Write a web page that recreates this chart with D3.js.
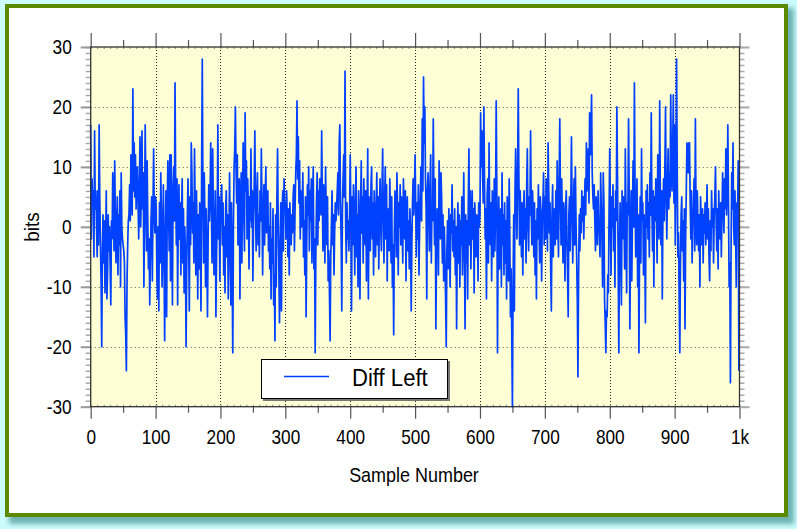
<!DOCTYPE html>
<html><head><meta charset="utf-8">
<script src="https://cdn.jsdelivr.net/npm/d3@7/dist/d3.min.js"></script>
<style>html,body{margin:0;padding:0;background:#ccfcfc;}svg{display:block;}</style>
</head><body>
<script>
// ---- data ----
const seriesName = "Diff Left";
const diffLeft = [
 17,-2,8,4,6,-5,16,3,6,0,-5,6,-3,17,5,-3,-9,-20,-4,2,
 -6,1,-11,-3,6,-12,-8,2,-4,0,-7,-13,1,-2,9,3,-4,11,2,-6,
 -1,5,-8,2,-3,6,-10,9,0,-2,-3,-4,-6,-15,-18,-24,-9,-3,1,2,
 7,1,12,8,2,23,6,14,5,12,3,8,10,4,-2,7,15,0,5,16,
 3,9,-10,2,17,6,-4,11,1,-7,-2,-13,-5,1,5,-9,3,13,2,-1,
 5,3,-8,-12,0,-14,4,-6,9,2,-10,-3,7,-5,-19,-2,6,-15,4,11,
 3,-4,12,-9,12,2,-13,6,10,1,24,6,-3,8,-13,2,7,-2,4,-8,
 2,8,-6,3,-11,0,-4,-20,-7,2,8,-2,-14,5,-3,14,9,-1,4,-6,
 13,3,-8,6,-1,-12,2,-7,4,-3,-14,10,28,5,-6,9,2,-10,3,-4,
 -15,-2,7,1,5,14,4,-6,13,3,-8,-3,6,-15,-5,2,17,-2,5,-9,
 1,5,7,-3,4,-8,0,-11,3,6,-5,2,-12,-4,9,-2,-13,4,-7,-21,
 0,10,13,20,10,4,12,-3,6,8,-12,2,9,-6,5,14,3,-4,19,6,
 11,-2,8,3,-7,5,1,13,0,6,-9,2,7,16,3,-4,5,9,-3,2,
 -5,6,1,13,4,-8,2,7,-3,5,10,-1,3,6,-4,0,-7,4,-12,-2,
 -6,3,-13,-8,-19,2,-10,5,13,1,-7,-16,-3,4,-14,2,6,-4,8,3,
 4,-2,6,1,-5,3,-8,4,0,-3,2,-1,5,7,-4,3,9,12,21,8,
 15,4,11,-2,6,0,3,9,-5,1,-8,5,-15,-3,7,2,10,-4,6,1,
 8,-6,3,10,-7,-2,-21,-5,4,9,-3,6,1,8,4,2,16,5,-4,7,
 3,-6,10,2,-3,5,-9,-4,-11,-19,-5,0,6,-3,2,-8,-1,4,1,3,
 6,9,2,14,17,4,-2,-14,3,8,12,5,26,0,-6,4,-2,1,-4,2,
 12,2,-14,5,-3,7,1,-8,4,10,-5,2,-10,6,0,-12,3,11,-1,5,
 -6,8,2,-3,6,-9,3,13,-12,5,1,-4,7,10,-2,4,-8,6,1,-5,
 3,9,-3,5,-7,2,8,0,-4,6,13,2,-6,4,10,-2,7,-9,3,1,
 -4,8,2,-6,5,-10,-3,-18,-1,6,2,-5,9,3,-8,4,0,7,-3,5,
 1,-6,8,3,-2,6,-9,2,5,-4,1,-7,3,-1,-14,-3,4,8,2,6,
 12,3,-5,4,-2,7,-8,0,5,10,1,18,6,25,14,20,8,3,-12,6,
 9,2,-4,7,12,-6,4,1,18,5,-3,8,-17,-5,3,2,-8,11,6,-2,
 9,4,-6,2,-9,0,-5,-12,-20,-4,1,-7,3,-3,-10,2,-1,7,-4,1,
 -5,3,-8,0,-17,-2,4,-6,2,-10,1,-3,5,-8,-1,9,-4,-17,2,-6,
 1,-12,4,13,-3,6,-7,0,6,-2,3,-11,4,0,-5,2,1,-9,4,0,
 2,19,10,16,9,4,20,7,-2,3,-12,5,8,-6,14,1,-3,4,-9,6,
 2,-5,8,-4,3,21,6,-21,-2,5,-7,1,3,-10,9,-3,2,-8,4,-6,
 1,-12,5,-4,-9,8,-2,-15,-7,-18,-30,-10,2,-14,6,13,4,-2,9,23,
 8,-3,6,1,-5,4,-8,2,6,-2,3,-6,7,13,0,-4,5,2,16,3,
 -3,6,2,-5,4,-8,1,-12,3,-2,7,0,-6,5,2,-9,1,4,9,-3,
 5,-2,8,3,-4,14,6,-1,4,-7,-14,2,7,-5,1,3,-3,6,-2,11,
 2,-5,7,18,5,-3,8,1,-6,4,0,-9,3,6,-2,-8,-15,2,5,-4,
 4,15,3,-6,2,8,-3,10,1,-5,-12,-25,-8,2,-4,3,-1,6,1,5,
 -2,4,8,2,14,6,10,13,4,19,12,16,22,9,5,3,7,1,-4,5,
 2,-3,6,0,-1,-5,9,3,-2,-10,9,4,-12,-16,-21,-14,-15,-8,-11,3,
 13,2,-8,5,0,7,-4,3,-10,6,1,20,8,-6,-21,-3,4,-5,-13,6,
 -2,5,1,-7,13,3,-11,4,2,18,5,-17,-4,6,-9,2,11,0,24,6,
 -5,3,8,-10,2,-21,-3,5,-6,13,1,4,-8,2,-3,-16,6,0,7,-2,
 4,-5,9,2,19,3,-4,6,-10,5,1,8,3,-6,12,4,-2,21,5,-3,
 6,-12,3,8,1,10,20,4,-2,7,13,3,9,5,22,10,6,13,22,4,
 17,-3,8,28,10,-5,-1,-12,-21,-6,2,5,-4,1,-9,3,-17,-2,6,14,
 13,9,14,14,4,-2,6,-6,1,3,8,-4,18,2,-3,6,0,-4,2,-10,
 5,0,-3,3,-6,2,-1,4,-3,1,7,-2,3,-5,-9,1,-4,6,0,3,
 -6,2,5,10,1,-4,3,-7,6,0,-2,4,-5,2,9,5,-1,8,3,13,
 2,6,17,4,-10,-6,-26,-4,9,3,14,0,-3,6,-1,-10,4,2,11,-24
];
const xTicks = [0,100,200,300,400,500,600,700,800,900,1000];
const xTickLabels = ["0","100","200","300","400","500","600","700","800","900","1k"];
const yTicks = [-30,-20,-10,0,10,20,30];
const yTickLabels = ["-30","-20","-10","0","10","20","30"];
const xTitle = "Sample Number";
const yTitle = "bits";

// ---- layout ----
const W = 797, H = 529;
const L = 90.7, R = 739.5, T = 47, B = 406.7;
const FONT = "'Liberation Sans',Arial,Helvetica,sans-serif";
const svg = d3.select("body").append("svg").attr("width", W).attr("height", H);
const defs = svg.append("defs");
const blur = defs.append("filter").attr("id","sh").attr("x","-5%").attr("y","-5%").attr("width","115%").attr("height","115%");
blur.append("feGaussianBlur").attr("stdDeviation", 2.5);

// frame with shadow
svg.append("rect").attr("x", 9).attr("y", 8).attr("width", 785).attr("height", 516)
  .attr("fill", "#4f9a9a").attr("opacity", 0.75).attr("filter","url(#sh)");
svg.append("rect").attr("x", 7).attr("y", 6).attr("width", 779).attr("height", 509)
  .attr("fill", "#ffffff").attr("stroke", "#5b8a00").attr("stroke-width", 4);

const x = d3.scaleLinear().domain([0, 1000]).range([L, R]);
const y = d3.scaleLinear().domain([-30, 30]).range([B, T]);

// plot background
svg.append("rect").attr("x", L).attr("y", T).attr("width", R - L).attr("height", B - T).attr("fill", "#ffffd6");

// grid
const g = svg.append("g");
g.selectAll("line.gx").data(xTicks.slice(1, -1)).join("line")
  .attr("x1", d => Math.round(x(d)) + 0.5).attr("x2", d => Math.round(x(d)) + 0.5)
  .attr("y1", T).attr("y2", B).attr("stroke", "#222").attr("stroke-width", 1).attr("stroke-dasharray", "1,2");
g.selectAll("line.gy").data(yTicks.slice(1, -1)).join("line")
  .attr("y1", d => Math.round(y(d)) + 0.5).attr("y2", d => Math.round(y(d)) + 0.5)
  .attr("x1", L).attr("x2", R).attr("stroke", "#555").attr("stroke-width", 1).attr("stroke-dasharray", "1,3");

// axes via d3
const minorX = d3.range(0, 1001, 10);
const midX = d3.range(50, 1000, 100);
const minorY = d3.range(-30, 31, 1);

function styleAxis(sel, col, w) {
  sel.select(".domain").remove();
  sel.selectAll(".tick line").attr("stroke", col).attr("stroke-width", w);
  sel.selectAll("text").remove();
}
function condense(sel, f) {
  sel.each(function() {
    const len = this.getComputedTextLength();
    d3.select(this).attr("textLength", len * f).attr("lengthAdjust", "spacingAndGlyphs");
  });
}
// top
svg.append("g").attr("transform", `translate(0,${T})`).call(d3.axisTop(x).tickValues(minorX).tickSize(-2).tickFormat(""))
  .call(s => styleAxis(s, "#888", 1));
svg.append("g").attr("transform", `translate(0,${T})`).call(d3.axisTop(x).tickValues(midX).tickSize(7).tickFormat(""))
  .call(s => styleAxis(s, "#555", 1.2));
svg.append("g").attr("transform", `translate(0,${T})`).call(d3.axisTop(x).tickValues(xTicks).tickSize(14).tickFormat(""))
  .call(s => styleAxis(s, "#555", 1.2));
// bottom
svg.append("g").attr("transform", `translate(0,${B})`).call(d3.axisBottom(x).tickValues(minorX).tickSize(-2).tickFormat(""))
  .call(s => styleAxis(s, "#888", 1));
svg.append("g").attr("transform", `translate(0,${B})`).call(d3.axisBottom(x).tickValues(midX).tickSize(6).tickFormat(""))
  .call(s => styleAxis(s, "#555", 1.2));
const xb = svg.append("g").attr("transform", `translate(0,${B})`)
  .call(d3.axisBottom(x).tickValues(xTicks).tickSize(12).tickFormat((d, i) => xTickLabels[i]));
xb.select(".domain").remove();
xb.selectAll(".tick line").attr("stroke", "#555").attr("stroke-width", 1.2);
xb.selectAll("text").attr("fill", "#000").attr("y", 22).attr("dy", "0.71em")
  .style("font-family", FONT).style("font-size", "21px").call(condense, 0.82);
// left
svg.append("g").attr("transform", `translate(${L},0)`).call(d3.axisLeft(y).tickValues(minorY).tickSize(5).tickFormat(""))
  .call(s => styleAxis(s, "#aaa", 1.5));
const yl = svg.append("g").attr("transform", `translate(${L},0)`)
  .call(d3.axisLeft(y).tickValues(yTicks).tickSize(10).tickFormat((d, i) => yTickLabels[i]));
yl.select(".domain").remove();
yl.selectAll(".tick line").attr("stroke", "#999").attr("stroke-width", 2);
yl.selectAll("text").attr("fill", "#000").attr("x", -19)
  .style("font-family", FONT).style("font-size", "21px").call(condense, 0.82);
// right
svg.append("g").attr("transform", `translate(${R},0)`).call(d3.axisRight(y).tickValues(minorY).tickSize(5).tickFormat(""))
  .call(s => styleAxis(s, "#aaa", 1.5));
svg.append("g").attr("transform", `translate(${R},0)`).call(d3.axisRight(y).tickValues(yTicks).tickSize(10).tickFormat(""))
  .call(s => styleAxis(s, "#aaa", 2));

// data line
const line = d3.line().x((d, i) => x(i)).y(d => y(d));
svg.append("path").datum(diffLeft).attr("d", line).attr("fill", "none")
  .attr("stroke", "#0040ff").attr("stroke-width", 1.7).attr("stroke-linejoin", "round");

// plot border
svg.append("rect").attr("x", L).attr("y", T).attr("width", R - L).attr("height", B - T)
  .attr("fill", "none").attr("stroke", "#333").attr("stroke-width", 1.3);

// titles
svg.append("text").attr("x", 414).attr("y", 482).attr("text-anchor", "middle")
  .style("font-family", FONT).style("font-size", "21px").text(xTitle).call(condense, 0.855);
svg.append("text").attr("transform", "translate(39,227) rotate(-90)").attr("text-anchor", "middle")
  .style("font-family", FONT).style("font-size", "21px").text(yTitle).call(condense, 0.9);

// legend
const lg = svg.append("g");
lg.append("rect").attr("x", 263).attr("y", 361).attr("width", 187).attr("height", 40).attr("fill", "#777");
lg.append("rect").attr("x", 261.5).attr("y", 359.5).attr("width", 186).attr("height", 39)
  .attr("fill", "#fff").attr("stroke", "#000").attr("stroke-width", 1);
lg.append("line").attr("x1", 284).attr("x2", 329).attr("y1", 376.5).attr("y2", 376.5)
  .attr("stroke", "#0040ff").attr("stroke-width", 1.5);
lg.append("text").attr("x", 352).attr("y", 386)
  .style("font-family", FONT).style("font-size", "23px").text(seriesName).call(condense, 0.96);
</script>
</body></html>
